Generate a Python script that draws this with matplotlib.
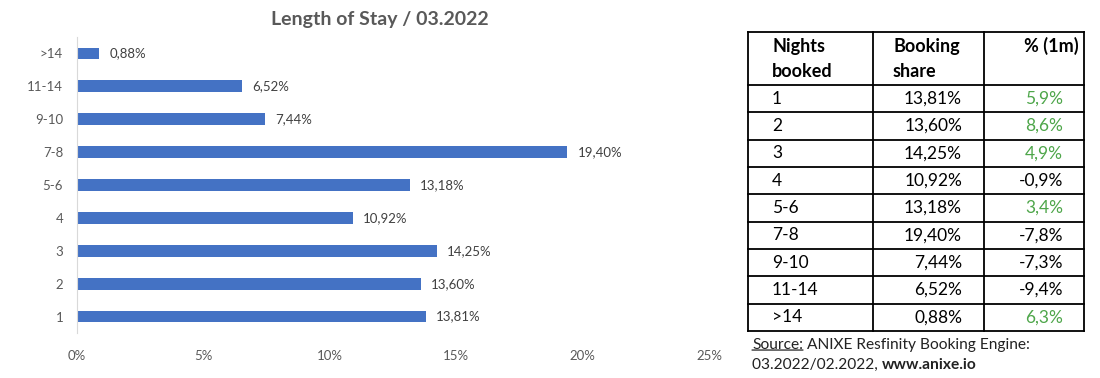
import numpy as np
import matplotlib.pyplot as plt

plt.rcParams['font.family'] = ['Lato', 'DejaVu Sans']

nights = ["1", "2", "3", "4", "5-6", "7-8", "9-10", "11-14", ">14"]
share = [13.81, 13.60, 14.25, 10.92, 13.18, 19.40, 7.44, 6.52, 0.88]
change = [5.9, 8.6, 4.9, -0.9, 3.4, -7.8, -7.3, -9.4, 6.3]
xticks = [0, 5, 10, 15, 20, 25]


def fmt(v, d):
    return f"{v:.{d}f}".replace(".", ",") + "%"


fig = plt.figure(figsize=(11, 3.78), dpi=100)

# bar chart
ax = fig.add_axes([77 / 1100, 1 - 333 / 378, 632 / 1100, 296 / 378])
y = np.arange(len(nights))
ax.barh(y, share, height=0.36, color="#4472C4")
for yi, v in zip(y, share):
    ax.text(v + 0.4, yi, fmt(v, 2), va="center", ha="left",
            fontsize=9.5, color="#404040")
ax.set_xlim(0, 25)
ax.set_ylim(-0.5, len(nights) - 0.5)
ax.set_yticks(y)
ax.set_yticklabels(nights)
ax.set_xticks(xticks)
ax.set_xticklabels([f"{t}%" for t in xticks])
ax.tick_params(axis="both", length=0, labelsize=9.5, labelcolor="#595959")
ax.tick_params(axis="x", pad=12)
ax.tick_params(axis="y", pad=10)
for s in ["top", "right", "bottom"]:
    ax.spines[s].set_visible(False)
ax.spines["left"].set_color("#D9D9D9")
fig.text(380 / 1100, 1 - 19 / 378, "Length of Stay / 03.2022", ha="center",
         va="center", fontsize=14, fontweight="bold", color="#595959")

# table
tw, th = 336, 299
tax = fig.add_axes([748 / 1100, 1 - 331 / 378, tw / 1100, th / 378])
tax.set_xlim(0, tw)
tax.set_ylim(th, 0)
tax.axis("off")
cols = [0, 125, 236, tw]
head_h = 53
row_h = (th - head_h) / len(nights)
lw = 1.3
for c in cols:
    tax.plot([c, c], [0, th], color="black", lw=lw, clip_on=False)
tax.plot([0, tw], [0, 0], color="black", lw=lw, clip_on=False)
for i in range(len(nights) + 1):
    yy = head_h + i * row_h
    tax.plot([0, tw], [yy, yy], color="black", lw=lw, clip_on=False)

hs = dict(fontsize=13, fontweight="bold", va="baseline", color="black")
tax.text(24, 20, "Nights", ha="left", **hs)
tax.text(24, 45, "booked", ha="left", **hs)
tax.text(145, 20, "Booking", ha="left", **hs)
tax.text(145, 45, "share", ha="left", **hs)
tax.text(331, 20, "% (1m)", ha="right", **hs)

for i, (n, s, c) in enumerate(zip(nights, share, change)):
    yc = head_h + (i + 0.5) * row_h
    ts = dict(fontsize=12.5, va="center", color="black")
    tax.text(24, yc, n, ha="left", **ts)
    tax.text(214, yc, fmt(s, 2), ha="right", **ts)
    tax.text(315, yc, fmt(c, 1), ha="right", fontsize=12.5, va="center",
             color="#4EA64A" if c > 0 else "black")

ss = dict(fontsize=11.2, va="baseline", ha="left", color="#222222")
t1 = tax.text(4, 317, "Source:", clip_on=False, **ss)
tax.annotate("", xy=(0, 0.14), xycoords=t1, xytext=(1, 0.14), textcoords=t1,
             arrowprops=dict(arrowstyle="-", lw=0.9, color="#222222",
                             shrinkA=0, shrinkB=0))
tax.annotate(" ANIXE Resfinity Booking Engine:", xy=(1, 0), xycoords=t1,
             va="bottom", ha="left", fontsize=11.2, color="#222222")
t2 = tax.text(4, 337, "03.2022/02.2022, ", clip_on=False, **ss)
tax.annotate("www.anixe.io", xy=(1, 0), xycoords=t2, va="bottom", ha="left",
             fontsize=11.2, fontweight="bold", color="#222222")

fig.savefig("out.png", dpi=100)
